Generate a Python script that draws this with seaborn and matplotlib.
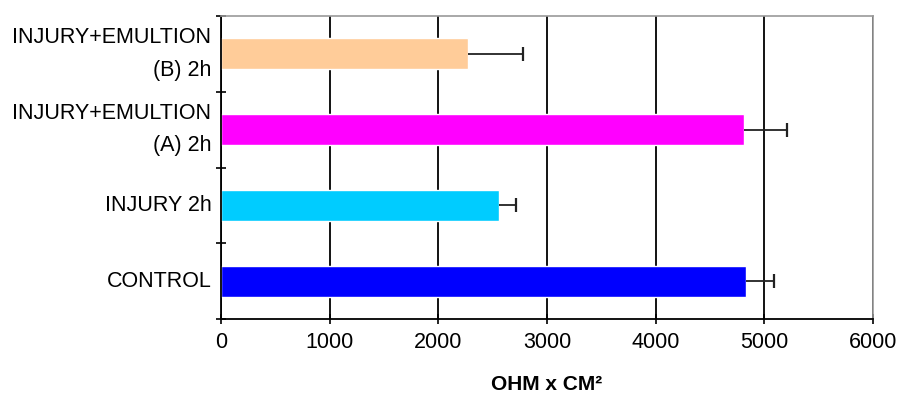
import matplotlib
matplotlib.use("Agg")
import matplotlib.pyplot as plt
import seaborn as sns
import numpy as np
import pandas as pd

# values (top to bottom)
groups = ["INJURY+EMULTION\n(B) 2h", "INJURY+EMULTION\n(A) 2h", "INJURY 2h", "CONTROL"]
ohm_cm2 = [2270, 4815, 2555, 4830]
err_plus = [505, 395, 160, 258]
colors = ["#FFCC99", "#FF00FF", "#00CCFF", "#0000FF"]

sns.set_style("white")
plt.rcParams["font.family"] = ["Liberation Sans", "DejaVu Sans"]
plt.rcParams["text.color"] = "black"
plt.rcParams["xtick.labelcolor"] = "black"
plt.rcParams["ytick.labelcolor"] = "black"
plt.rcParams["axes.labelcolor"] = "black"

df = pd.DataFrame({"group": groups, "value": ohm_cm2})

fig = plt.figure(figsize=(8.97, 4.01), dpi=100)
ax = fig.add_axes([0.2464, 0.2045, 0.9733 - 0.2464, 0.96 - 0.2045])

sns.barplot(data=df, x="value", y="group", hue="group", palette=colors,
            orient="h", width=0.41, legend=False, ax=ax, saturation=1)

# one-sided error bars (cap only on the outer end)
ypos = np.arange(len(groups))
eb = ax.errorbar(ohm_cm2, ypos, xerr=[np.zeros(len(groups)), err_plus],
                 fmt="none", ecolor="#222222", elinewidth=1.3, capsize=5, capthick=1.6, zorder=3)
eb[1][0].set_visible(False)

ax.set_xlim(0, 6000)
ax.set_ylim(3.5, -0.5)
ax.set_xticks(range(0, 6001, 1000))
ax.grid(axis="x", color="black", linewidth=1.3)
ax.set_axisbelow(True)

# category tick marks between groups
ax.set_yticks(ypos)
ax.set_yticks(np.arange(-0.5, 4, 1), minor=True)
ax.tick_params(axis="y", which="major", length=0, pad=7, labelsize=15.5)
ax.tick_params(axis="y", which="minor", direction="inout", length=7, width=1.2, color="black", left=True)
ax.tick_params(axis="x", direction="inout", length=7, width=1.2, color="black", bottom=True, labelsize=15.5, pad=6)
for lab in ax.get_yticklabels():
    lab.set_linespacing(1.7)
    lab.set_horizontalalignment("right")
    lab.set_verticalalignment("center")

ax.set_ylabel("")
ax.set_xlabel("OHM x CM²", fontsize=15, fontweight="bold", labelpad=16)

for side in ["left", "bottom"]:
    ax.spines[side].set_color("black")
    ax.spines[side].set_linewidth(1.3)
for side in ["top", "right"]:
    ax.spines[side].set_visible(True)
    ax.spines[side].set_color("#999999")
    ax.spines[side].set_linewidth(1.2)

fig.savefig("out.png", dpi=100)
